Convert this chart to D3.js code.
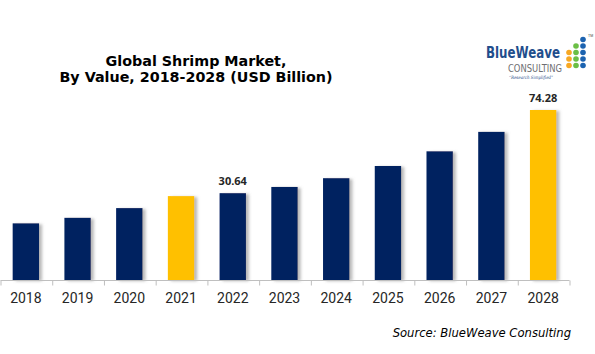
<!DOCTYPE html>
<html>
<head>
<meta charset="utf-8">
<script src="https://cdn.jsdelivr.net/npm/d3@7"></script>
<style>
  body { margin: 0; background: #fff; }
  svg { display: block; }
</style>
</head>
<body>
<div id="chart"></div>
<script>
// data
const years = ["2018", "2019", "2020", "2021", "2022", "2023", "2024", "2025", "2026", "2027", "2028"];
const values = [14.8, 17.7, 22.8, 29.1, 30.64, 33.9, 38.5, 44.9, 52.6, 62.8, 74.28];
const highlight = ["2021", "2028"];
const labelled = ["2022", "2028"];

const logoRows = [
  ["", "", "b"],
  ["", "g", "b"],
  ["o", "g", "b"],
  ["o", "g", "b"],
  ["o", "g", "b"]
];

const width = 595, height = 354;
const base = 280;

const svg = d3.select("#chart").append("svg")
    .attr("width", width)
    .attr("height", height);

const defs = svg.append("defs");
const f = defs.append("filter").attr("id", "shadow")
    .attr("x", "-20%").attr("y", "-10%").attr("width", "160%").attr("height", "120%");
f.append("feDropShadow")
    .attr("dx", 3).attr("dy", 1)
    .attr("stdDeviation", 1.4)
    .attr("flood-color", "#7f7f7f")
    .attr("flood-opacity", 0.55);

const x = d3.scaleBand()
    .domain(years)
    .range([0, 569])
    .paddingInner(0.49)
    .paddingOuter(0.245);

// chart does not start at zero
const y = d3.scaleLinear()
    .domain([-14.93, 74.28])
    .range([base, 110]);

// bars
svg.append("g").selectAll("rect")
    .data(years)
    .enter().append("rect")
    .attr("x", d => x(d))
    .attr("y", (d, i) => y(values[i]))
    .attr("width", x.bandwidth())
    .attr("height", (d, i) => base - y(values[i]))
    .attr("fill", d => highlight.includes(d) ? "#FFC000" : "#002060")
    .attr("filter", "url(#shadow)");

// value labels
svg.append("g").selectAll("text")
    .data(years.filter(d => labelled.includes(d)))
    .enter().append("text")
    .attr("x", d => x(d) + x.bandwidth() / 2)
    .attr("y", d => y(values[years.indexOf(d)]) - 8)
    .attr("text-anchor", "middle")
    .style("font-family", "'Open Sans', sans-serif")
    .style("font-weight", "bold")
    .style("font-size", "11px")
    .style("fill", "#262626")
    .text(d => values[years.indexOf(d)].toFixed(2));

// axis line with ticks between categories
const xb = d3.scaleLinear().domain([0, years.length]).range([0.5, 569.5]);
const axis = svg.append("g")
    .attr("transform", `translate(0,${base + 0.5})`)
    .call(d3.axisBottom(xb).ticks(years.length).tickSize(5).tickFormat(""));
axis.select(".domain").attr("stroke", "#bfbfbf").attr("d", "M0.5,0H569.5");
axis.selectAll(".tick line").attr("stroke", "#bfbfbf");

// category labels
svg.append("g")
    .attr("transform", `translate(0,${base})`)
    .call(d3.axisBottom(x).tickSize(0).tickPadding(13))
    .call(g => g.select(".domain").remove())
    .selectAll("text")
    .style("font-family", "Roboto, sans-serif")
    .style("font-size", "14px")
    .style("fill", "#262626");

// title
const title = svg.append("text")
    .attr("text-anchor", "middle")
    .style("font-family", "'DejaVu Sans', Verdana, sans-serif")
    .style("font-weight", "bold")
    .style("font-size", "14.3px")
    .style("fill", "#000");
title.append("tspan").attr("x", 196).attr("y", 66).text("Global Shrimp Market,");
title.append("tspan").attr("x", 196).attr("y", 82).text("By Value, 2018-2028 (USD Billion)");

// source
svg.append("text")
    .attr("x", 571)
    .attr("y", 337)
    .attr("text-anchor", "end")
    .style("font-family", "'DejaVu Sans', Verdana, sans-serif")
    .style("font-style", "italic")
    .style("font-size", "11.6px")
    .style("fill", "#000")
    .text("Source: BlueWeave Consulting");

// logo
const logo = svg.append("g");
logo.append("text")
    .attr("x", 486).attr("y", 57.8)
    .attr("textLength", 74).attr("lengthAdjust", "spacingAndGlyphs")
    .style("font-family", "'DejaVu Sans', sans-serif")
    .style("font-weight", "bold")
    .style("font-size", "15.5px")
    .style("fill", "#1f4e8c")
    .text("BlueWeave");
logo.append("text")
    .attr("x", 508).attr("y", 72)
    .attr("textLength", 54).attr("lengthAdjust", "spacingAndGlyphs")
    .style("font-family", "'DejaVu Sans', sans-serif")
    .style("font-size", "11px")
    .style("fill", "#6d6e71")
    .text("CONSULTING");
logo.append("text")
    .attr("x", 509).attr("y", 79)
    .attr("textLength", 44).attr("lengthAdjust", "spacingAndGlyphs")
    .style("font-family", "'DejaVu Serif', serif")
    .style("font-style", "italic")
    .style("font-size", "4.5px")
    .style("fill", "#1f4e8c")
    .text("\u201CResearch Simplified\u201D");
logo.append("text")
    .attr("x", 588).attr("y", 37)
    .style("font-family", "sans-serif")
    .style("font-size", "3.5px")
    .style("fill", "#444")
    .text("TM");

const dotColor = { o: "#f7a823", g: "#6bbf45", b: "#1c63b0" };
logoRows.forEach((row, r) => {
  row.forEach((c, k) => {
    if (!c) return;
    logo.append("circle")
        .attr("cx", 569 + k * 7)
        .attr("cy", 39.5 + r * 6.5)
        .attr("r", 2.8)
        .attr("fill", dotColor[c]);
  });
});
</script>
</body>
</html>
